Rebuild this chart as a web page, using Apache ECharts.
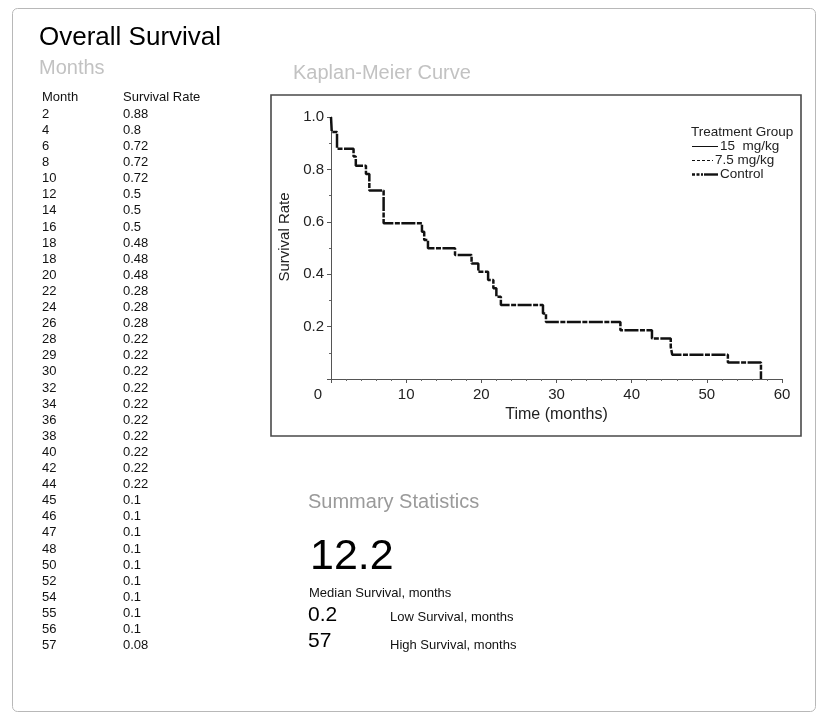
<!DOCTYPE html>
<html>
<head>
<meta charset="utf-8">
<title>Overall Survival</title>
<script src="https://cdn.jsdelivr.net/npm/echarts@6.0.0/dist/echarts.min.js"></script>
<style>
  html, body { margin: 0; padding: 0; background: #fff; }
  #main { width: 817px; height: 713px; }
</style>
</head>
<body>
<div id="main"></div>
<script>
// table on the left
const months = [2, 4, 6, 8, 10, 12, 14, 16, 18, 18, 20, 22, 24, 26, 28, 29, 30,
  32, 34, 36, 38, 40, 42, 44, 45, 46, 47, 48, 50, 52, 54, 55, 56, 57]
const survivalRate = [0.88, 0.8, 0.72, 0.72, 0.72, 0.5, 0.5, 0.5, 0.48, 0.48, 0.48, 0.28, 0.28, 0.28, 0.22, 0.22, 0.22,
  0.22, 0.22, 0.22, 0.22, 0.22, 0.22, 0.22, 0.1, 0.1, 0.1, 0.1, 0.1, 0.1, 0.1, 0.1, 0.1, 0.08]

// Kaplan-Meier steps
const kmTime = [0, 0.1, 0.8, 3.0, 3.3, 4.65, 5.1, 7.0, 12.1, 12.4, 12.9, 16.5, 18.7, 19.6, 20.9, 21.6, 22.0, 22.6,
  28.2, 28.6, 38.5, 42.7, 45.2, 45.4, 52.8, 57.2]
const kmSurv = [1.0, 0.943, 0.879, 0.849, 0.814, 0.782, 0.719, 0.594, 0.562, 0.531, 0.499, 0.473, 0.441, 0.409, 0.378, 0.346, 0.314, 0.282,
  0.25, 0.218, 0.186, 0.155, 0.122, 0.093, 0.063, 0]

const groups = ['15  mg/kg', '7.5 mg/kg', 'Control']
const xTicks = [0, 10, 20, 30, 40, 50, 60]

const medianSurvival = '12.2'
const lowSurvival = '0.2'
const highSurvival = '57'

const FONT = '"Liberation Sans", Arial, Helvetica, sans-serif'

function txt(text, x, y, size, color) {
  return {
    type: 'text',
    silent: true,
    style: {
      text: text,
      x: x,
      y: y,
      fontSize: size,
      fontFamily: FONT,
      fill: color,
      verticalAlign: 'middle'
    }
  }
}

function seg(x1, x2, y, width, dash) {
  return {
    type: 'line',
    silent: true,
    shape: { x1: x1, y1: y, x2: x2, y2: y },
    style: { stroke: '#111', lineWidth: width, lineDash: dash || null }
  }
}

const graphics = [
  {
    type: 'rect',
    silent: true,
    z: -10,
    shape: { x: 12.5, y: 8.5, width: 803, height: 703, r: 5 },
    style: { fill: 'none', stroke: '#b8b8b8', lineWidth: 1 }
  },
  {
    type: 'rect',
    silent: true,
    z: -5,
    shape: { x: 271, y: 95, width: 530, height: 341 },
    style: { fill: 'none', stroke: '#4a4a4a', lineWidth: 1.6 }
  },
  txt('Overall Survival', 39, 38, 26, '#000'),
  txt('Months', 39, 68, 20, '#c2c2c2'),
  txt('Kaplan-Meier Curve', 293, 73, 20, '#c2c2c2'),
  txt('Month', 42, 97, 13, '#111'),
  txt('Survival Rate', 123, 97, 13, '#111'),
  txt('Summary Statistics', 308, 502, 20, '#9a9a9a'),
  txt(medianSurvival, 310, 557, 43, '#000'),
  txt('Median Survival, months', 309, 593, 13, '#111'),
  txt(lowSurvival, 308, 615, 21, '#000'),
  txt('Low Survival, months', 390, 617, 13, '#111'),
  txt(highSurvival, 308, 641, 21, '#000'),
  txt('High Survival, months', 390, 645, 13, '#111'),

  // legend of the KM plot
  txt('Treatment Group', 691, 132, 13.5, '#222'),
  seg(692, 718, 146.5, 1),
  txt(groups[0], 720, 146, 13.5, '#222'),
  seg(692, 713, 160.5, 1, [3, 2]),
  txt(groups[1], 715, 160, 13.5, '#222'),
  seg(692, 703, 174.5, 2.4, [3, 1.5]),
  seg(704, 718, 174.5, 2.4),
  txt(groups[2], 720, 174, 13.5, '#222')
]

months.forEach((m, i) => {
  const y = 114.3 + i * 16.1
  graphics.push(txt(String(m), 42, y, 13, '#111'))
  graphics.push(txt(String(survivalRate[i]), 123, y, 13, '#111'))
})

const kmData = kmTime.map((t, i) => [t, kmSurv[i]])

const chart = echarts.init(document.getElementById('main'))
chart.setOption({
  animation: false,
  textStyle: { fontFamily: FONT },
  grid: {
    left: 331,
    right: 35,
    top: 117,
    bottom: 334,
    outerBoundsMode: 'none'
  },
  xAxis: {
    type: 'value',
    min: xTicks[0],
    max: xTicks[xTicks.length - 1],
    interval: 10,
    name: 'Time (months)',
    nameLocation: 'middle',
    nameGap: 28,
    nameTextStyle: { fontSize: 16, color: '#222' },
    axisLine: { show: true, lineStyle: { color: '#555', width: 1 } },
    axisTick: { show: true, length: 4, lineStyle: { color: '#555' } },
    minorTick: { show: true, splitNumber: 5, length: 2, lineStyle: { color: '#666' } },
    splitLine: { show: false },
    axisLabel: {
      fontSize: 15,
      color: '#222',
      margin: 8,
      formatter: v => v === 0 ? '{z|0}' : String(v),
      rich: { z: { fontSize: 15, color: '#222', padding: [0, 26, 0, 0] } }
    }
  },
  yAxis: {
    type: 'value',
    min: 0,
    max: 1,
    interval: 0.2,
    name: 'Survival Rate',
    nameLocation: 'middle',
    nameGap: 36,
    nameTextStyle: { fontSize: 15, color: '#222', padding: [0, 0, 0, 22] },
    axisLine: { show: true, lineStyle: { color: '#555', width: 1 } },
    axisTick: { show: true, length: 4, lineStyle: { color: '#555' } },
    minorTick: { show: true, splitNumber: 2, length: 2, lineStyle: { color: '#666' } },
    splitLine: { show: false },
    axisLabel: {
      fontSize: 15,
      color: '#222',
      margin: 7,
      formatter: v => v === 0 ? '' : v.toFixed(1)
    }
  },
  series: [
    {
      name: groups[2],
      type: 'line',
      symbol: 'none',
      step: 'end',
      data: kmData,
      lineStyle: { color: '#111', width: 2.5, type: [14, 1.5, 5, 1.5] },
      itemStyle: { color: '#111' }
    }
  ],
  graphic: graphics
})
</script>
</body>
</html>
